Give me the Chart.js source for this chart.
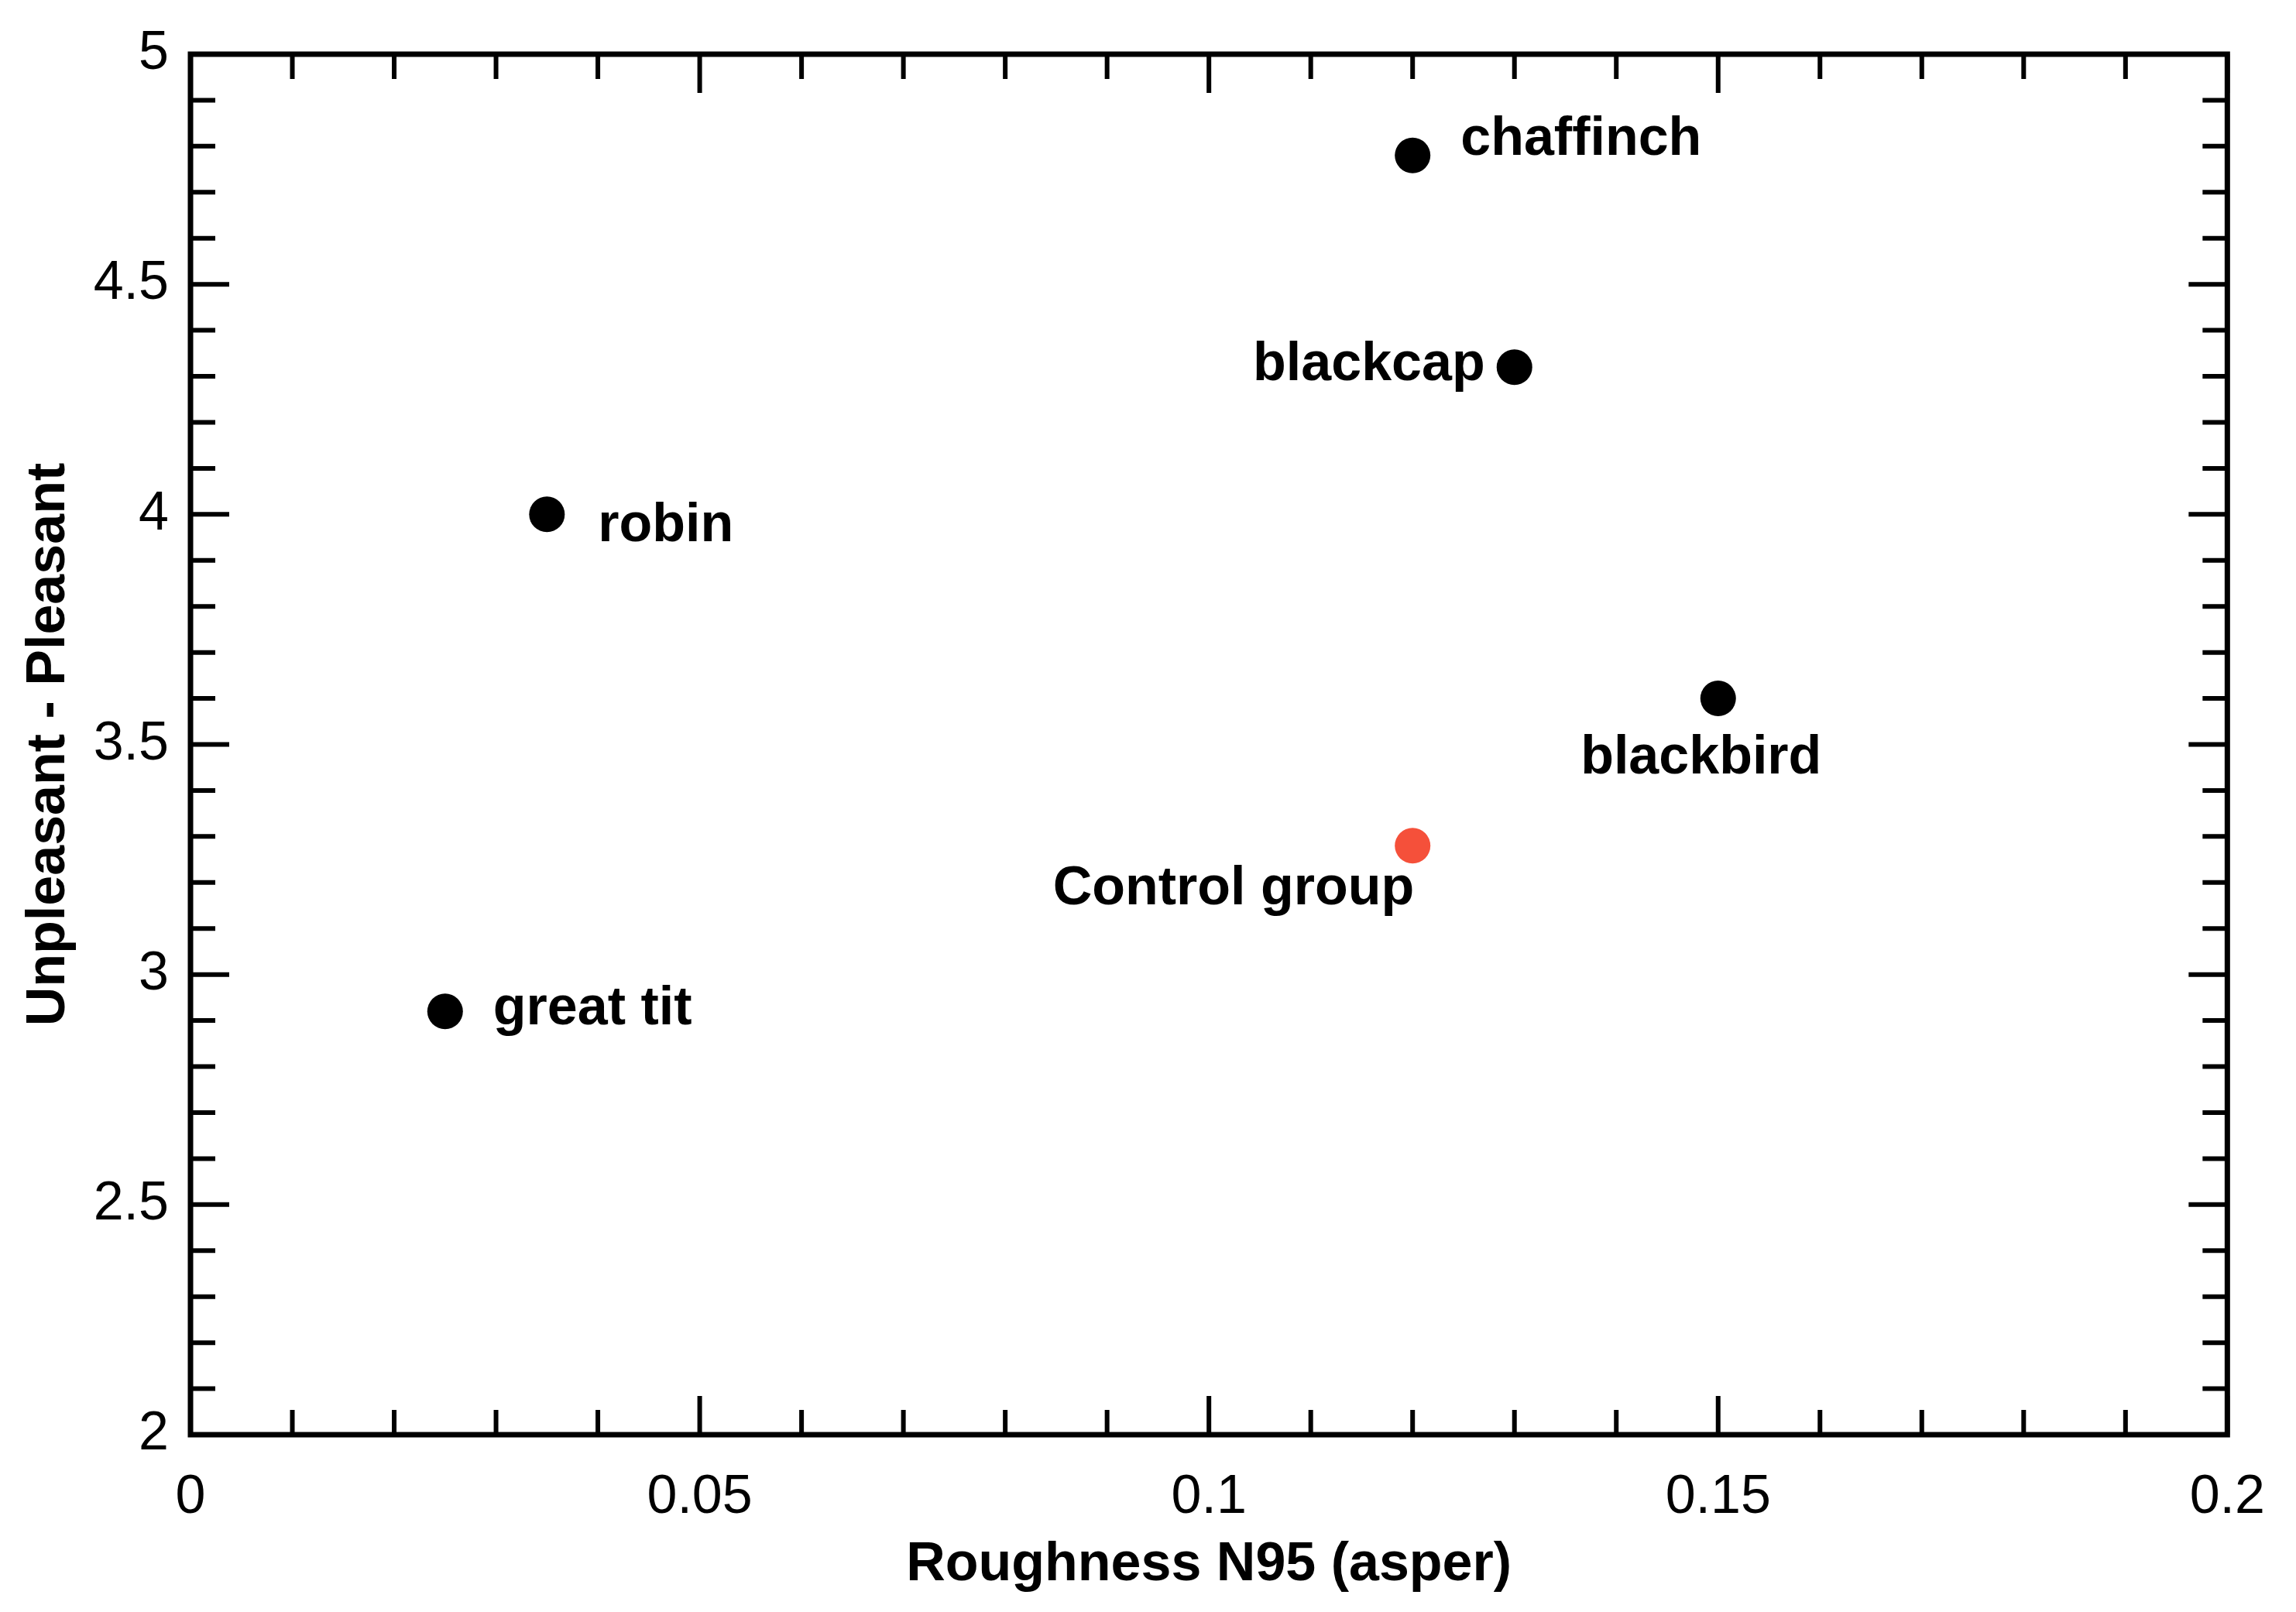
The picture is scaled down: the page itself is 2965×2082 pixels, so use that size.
<!DOCTYPE html>
<html>
<head>
<meta charset="utf-8">
<script src="https://cdn.jsdelivr.net/npm/chart.js@4"></script>
<style>
  html, body { margin: 0; padding: 0; background: #fff; }
  #wrap { width: 2965px; height: 2082px; }
</style>
</head>
<body>
<div id="wrap"><canvas id="birdChart"></canvas></div>
<script>
// Data
const birds = ['chaffinch', 'blackcap', 'robin', 'blackbird', 'Control group', 'great tit'];
const roughness = [0.12, 0.13, 0.035, 0.15, 0.12, 0.025];
const pleasantness = [4.78, 4.32, 4.0, 3.6, 3.28, 2.92];
const pointColors = ['#000', '#000', '#000', '#000', '#f5503a', '#000'];
const xTicks = [0, 0.05, 0.1, 0.15, 0.2];
const yTicks = [2, 2.5, 3, 3.5, 4, 4.5, 5];

// label placement: [dx, dy, align]
const labelPos = [
  [62, -20, 'left'], [-38, -2, 'right'], [66, 15, 'left'],
  [-22, 78, 'center'], [2, 56, 'right'], [62, -3, 'left']
];

const FONT = '"Liberation Sans", Arial, sans-serif';

// inward minor/major ticks on all four sides + point labels
const frameTicks = {
  id: 'frameTicks',
  afterDatasetsDraw(chart) {
    const { ctx, chartArea: a, scales: { x, y } } = chart;
    ctx.save();
    ctx.strokeStyle = '#000';
    ctx.lineWidth = 6;
    for (let i = 0; i <= 20; i++) {
      const px = x.getPixelForValue(i * 0.01);
      const len = i % 5 === 0 ? 50 : 32;
      ctx.beginPath();
      ctx.moveTo(px, a.bottom); ctx.lineTo(px, a.bottom - len);
      ctx.moveTo(px, a.top); ctx.lineTo(px, a.top + len);
      ctx.stroke();
    }
    for (let i = 0; i <= 30; i++) {
      const py = y.getPixelForValue(2 + i * 0.1);
      const len = i % 5 === 0 ? 50 : 32;
      ctx.beginPath();
      ctx.moveTo(a.left, py); ctx.lineTo(a.left + len, py);
      ctx.moveTo(a.right, py); ctx.lineTo(a.right - len, py);
      ctx.stroke();
    }
    ctx.lineWidth = 7;
    ctx.strokeRect(a.left, a.top, a.right - a.left, a.bottom - a.top);

    ctx.fillStyle = '#000';
    ctx.font = 'bold 70px ' + FONT;
    ctx.textBaseline = 'middle';
    birds.forEach((b, i) => {
      const px = x.getPixelForValue(roughness[i]);
      const py = y.getPixelForValue(pleasantness[i]);
      const [dx, dy, al] = labelPos[i];
      ctx.textAlign = al;
      ctx.fillText(b, px + dx, py + dy);
    });
    ctx.restore();
  }
};

new Chart(document.getElementById('birdChart'), {
  type: 'scatter',
  data: {
    datasets: [{
      data: roughness.map((v, i) => ({ x: v, y: pleasantness[i] })),
      backgroundColor: pointColors,
      borderWidth: 0,
      pointRadius: 23
    }]
  },
  options: {
    responsive: true,
    maintainAspectRatio: false,
    animation: false,
    layout: { padding: { top: 61, right: 71, left: 0, bottom: 0 } },
    plugins: { legend: { display: false }, tooltip: { enabled: false } },
    scales: {
      x: {
        type: 'linear', min: 0, max: 0.2,
        afterFit: s => { s.height = 229; },
        afterBuildTicks: s => { s.ticks = xTicks.map(v => ({ value: v })); },
        grid: { display: false, drawTicks: false },
        border: { display: false },
        ticks: {
          color: '#000', padding: 40,
          font: { family: FONT, size: 70 },
          callback: v => String(v)
        },
        title: {
          display: true, text: 'Roughness N95 (asper)', color: '#000',
          font: { family: FONT, size: 70, weight: 'bold' },
          padding: { top: 0, bottom: 18 }
        }
      },
      y: {
        type: 'linear', min: 2, max: 5,
        afterFit: s => { s.width = 246; },
        afterBuildTicks: s => { s.ticks = yTicks.map(v => ({ value: v })); },
        grid: { display: false, drawTicks: false },
        border: { display: false },
        ticks: {
          color: '#000', padding: 28,
          font: { family: FONT, size: 70 },
          callback: v => String(v)
        },
        title: {
          display: true, text: 'Unpleasant - Pleasant', color: '#000',
          font: { family: FONT, size: 70, weight: 'bold' },
          padding: { top: 22, bottom: 0 }
        }
      }
    }
  },
  plugins: [frameTicks]
});
</script>
</body>
</html>
